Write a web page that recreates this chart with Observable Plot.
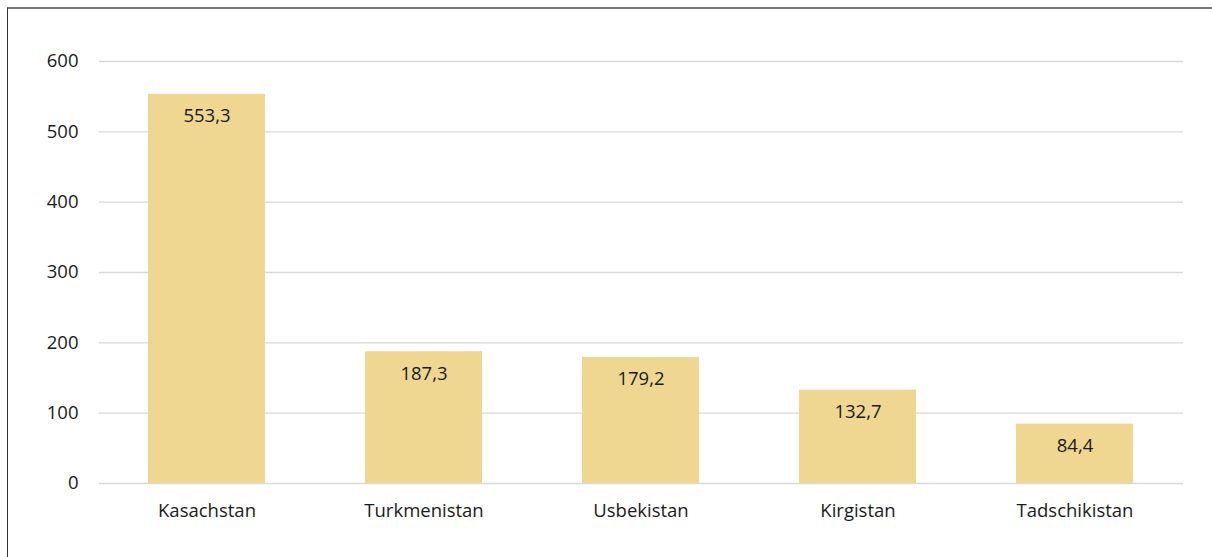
<!DOCTYPE html>
<html>
<head>
<meta charset="utf-8">
<script src="https://cdn.jsdelivr.net/npm/d3@7"></script>
<script src="https://cdn.jsdelivr.net/npm/@observablehq/plot@0.6"></script>
<style>
  html, body { margin: 0; padding: 0; background: #fff; width: 1212px; height: 557px; overflow: hidden; }
  #frame { position: absolute; left: 7px; top: 7px; width: 1220px; height: 560px; border-left: 1px solid #333; border-top: 2px solid #777; box-sizing: border-box; }
  #chart { position: absolute; left: 0; top: 0; }
</style>
</head>
<body>
<div id="frame"></div>
<div id="chart"></div>
<script>
const countries = ["Kasachstan", "Turkmenistan", "Usbekistan", "Kirgistan", "Tadschikistan"];
const values = [553.3, 187.3, 179.2, 132.7, 84.4];
const yTicks = [0, 100, 200, 300, 400, 500, 600];

const data = countries.map((c, i) => ({country: c, value: values[i]}));
const fmt = v => v.toFixed(1).replace(".", ",");

const chart = Plot.plot({
  width: 1212,
  height: 557,
  marginLeft: 99,
  marginRight: 29,
  marginTop: 61,
  marginBottom: 74,
  style: {fontFamily: "'Open Sans', sans-serif", fontSize: "18.5px", color: "#1a1a1a", background: "transparent"},
  x: {domain: countries, paddingInner: 0.46, paddingOuter: 0.22, label: null},
  y: {domain: [0, 600], ticks: yTicks, label: null},
  marks: [
    Plot.ruleY(yTicks, {stroke: "#d9d9d9", strokeWidth: 1.3}),
    Plot.barY(data, {x: "country", y: "value", fill: "#f0d791"}),
    Plot.axisX({tickSize: 0, tickPadding: 20, fontSize: 18.5, fill: "#1a1a1a", label: null}),
    Plot.axisY({ticks: yTicks, tickSize: 0, tickPadding: 21, fontSize: 18.5, fill: "#1a1a1a", label: null}),
    Plot.text(data, {x: "country", y: "value", text: d => fmt(d.value), dy: 22, fill: "#1a1a1a", fontSize: 18.5})
  ]
});
document.getElementById("chart").appendChild(chart);
</script>
</body>
</html>
